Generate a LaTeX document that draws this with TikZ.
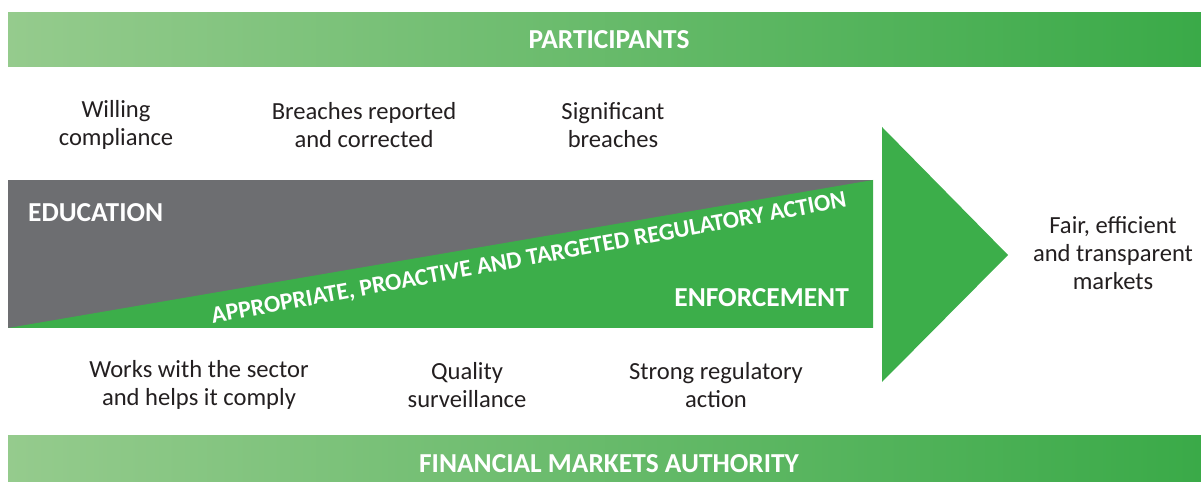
\documentclass[tikz,border=0pt]{standalone}
\usepackage{fontspec}
\setmainfont{Carlito}
\usepackage{tikz}

\definecolor{bandlight}{HTML}{95CB8D}
\definecolor{bandgreen}{HTML}{3AAA48}
\definecolor{boxgray}{HTML}{6D6E71}
\definecolor{boxgreen}{HTML}{3CAE4A}
\definecolor{inkdark}{HTML}{231F20}

\begin{document}
\begin{tikzpicture}[x=0.02cm, y=-0.02cm,
		label/.style={align=center, text=inkdark, font=\fontsize{14}{16}\selectfont},
		headline/.style={text=white, font=\bfseries\fontsize{15.6}{18}\selectfont}]
		% Canvas for reference

		\useasboundingbox (0, 0) rectangle (1201, 482);
		% \draw[step=50,color=gray] (0, 0) grid (1201, 482);

		% Bands
		\shade[left color=bandlight, right color=bandgreen] (8, 13) rectangle (1201, 67);
		\shade[left color=bandlight, right color=bandgreen] (8, 436) rectangle (1201, 482);
		\node[headline] (participants) at (609, 40) {PARTICIPANTS};
		\node[headline] (fma) at (609, 464) {FINANCIAL MARKETS AUTHORITY};

		% Lines and shapes
		\fill[boxgray] (8, 180) rectangle (873, 328);
		\fill[boxgreen] (8, 328) -- (873, 180) -- (873, 328) -- cycle;
		\fill[boxgreen] (882, 127) -- (1008, 255) -- (882, 382) -- cycle;

		% Text on the box
		\node[headline, anchor=west] (education) at (22, 213) {EDUCATION};
		\node[headline, anchor=east] (enforcement) at (855, 298) {ENFORCEMENT};
		\node[text=white, font=\bfseries\fontsize{13.7}{16}\selectfont, rotate=10.4] (action) at (529, 259) {APPROPRIATE, PROACTIVE AND TARGETED REGULATORY ACTION};

		% Participants side
		\node[label] (willing) at (116, 125) {Willing\\compliance};
		\node[label] (reported) at (364, 125) {Breaches reported\\and corrected};
		\node[label] (significant) at (613, 125) {Significant\\breaches};

		% Authority side
		\node[label] (works) at (199, 385) {Works with the sector\\and helps it comply};
		\node[label] (quality) at (467, 385) {Quality\\surveillance};
		\node[label] (strong) at (716, 385) {Strong regulatory\\action};

		% Outcome
		\node[label] (markets) at (1113, 253) {Fair, efficient\\and transparent\\markets};
	\end{tikzpicture}
\end{document}
